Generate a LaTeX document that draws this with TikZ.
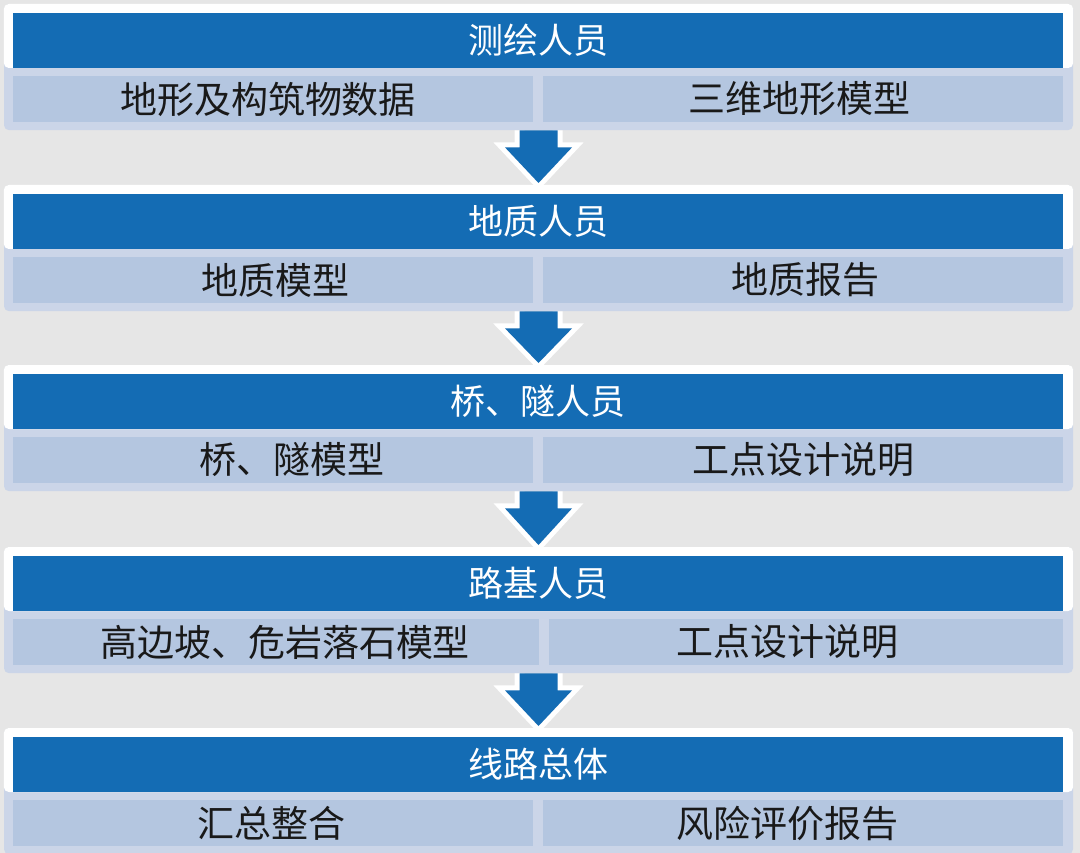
\documentclass[tikz,border=0pt]{standalone}
\usepackage{fontspec}
\newfontfamily\cjk{Noto Sans CJK SC}
\usetikzlibrary{calc}
\definecolor{bg}{RGB}{230,230,230}
\definecolor{hblue}{RGB}{20,108,180}
\definecolor{fcol}{RGB}{203,213,232}
\definecolor{ccol}{RGB}{180,198,224}
\tikzset{
  frame/.style={draw=none, fill=fcol, rounded corners=5pt, minimum width=1069pt, minimum height=126pt, inner sep=0pt, anchor=north},
  head/.style={fill=hblue, text=white, minimum width=1050pt, minimum height=55pt, inner sep=0pt, font=\cjk\fontsize{35pt}{38pt}\selectfont},
  cell/.style={fill=ccol, minimum height=46pt, inner sep=0pt},
  ctext/.style={font=\cjk\fontsize{37pt}{41pt}\selectfont, text=black!90, inner sep=0pt},
  arrowout/.style={draw=white, line width=10pt, line join=miter, line cap=butt},
  arrowin/.style={fill=hblue}
}
\begin{document}
\begin{tikzpicture}[x=1pt,y=-1pt]
\useasboundingbox (0,0) rectangle (1080,853);
\fill[bg] (0,0) rectangle (1080,853);
\foreach \k/\tp/\dv/\hdr/\ltx/\lxx/\rtx/\rxx in {
  1/13/0/测绘人员/地形及构筑物数据/268/三维地形模型/799,
  2/194/0/地质人员/地质模型/275/地质报告/805,
  3/374/0/桥、隧人员/桥、隧模型/292/工点设计说明/803,
  4/556/6/路基人员/高边坡、危岩落石模型/285/工点设计说明/787,
  5/737/0/线路总体/汇总整合/271/风险评价报告/787}{
  \node[frame] (f\k) at (538.5,\tp-9) {};
  \fill[white, rounded corners=5pt] (f\k.north west) rectangle ($(f\k.north east)+(0,64)$);
  \node[head] (h\k) at (538,\tp+27.5) {\hdr};
  \pgfmathsetmacro\lwid{520+\dv}
  \pgfmathsetmacro\lcen{273+\dv/2}
  \pgfmathsetmacro\rwid{520-\dv}
  \pgfmathsetmacro\rcen{803+\dv/2}
  \node[cell, minimum width=\lwid pt] (l\k) at (\lcen,\tp+86) {};
  \node[cell, minimum width=\rwid pt] (r\k) at (\rcen,\tp+86) {};
  \node[ctext] (lt\k) at (\lxx,\tp+86) {\ltx};
  \node[ctext] (rt\k) at (\rxx,\tp+86) {\rtx};
}
\foreach \k/\j in {1/2,2/3,3/4,4/5}{
  \path (f\k.south) coordinate (a) ($(f\j.north)+(0,-2)$) coordinate (b);
  \draw[arrowout] ($(a)+(-19,0)$) -- ($(a)+(-19,17)$) -- ($(a)+(-33.5,17)$) -- (b) -- ($(a)+(33.5,17)$) -- ($(a)+(19,17)$) -- ($(a)+(19,0)$);
  \fill[arrowin] ($(a)+(-19,0)$) -- ($(a)+(-19,17)$) -- ($(a)+(-33.5,17)$) -- (b) -- ($(a)+(33.5,17)$) -- ($(a)+(19,17)$) -- ($(a)+(19,0)$) -- cycle;
}
\end{tikzpicture}
\end{document}
